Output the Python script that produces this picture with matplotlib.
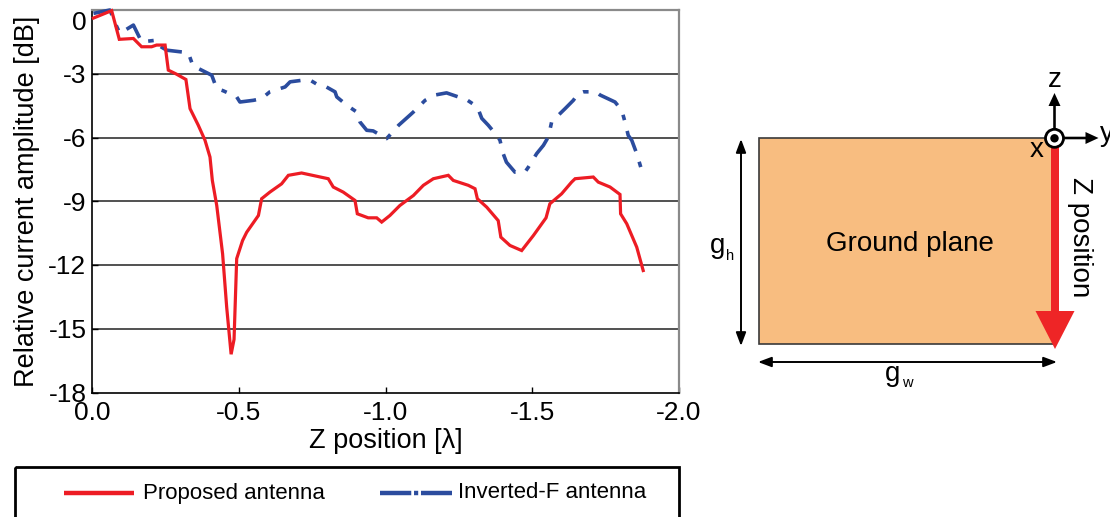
import matplotlib
matplotlib.use("Agg")
import matplotlib.pyplot as plt
import matplotlib.transforms as mtransforms
from matplotlib.patches import Rectangle, FancyArrow, Circle
from matplotlib.lines import Line2D

plt.rcParams['font.family'] = ['Liberation Sans', 'DejaVu Sans']
plt.rcParams['axes.unicode_minus'] = False
plt.rcParams['lines.scale_dashes'] = False

# ---------------- data ----------------
proposed_z = [-0.005, -0.067, -0.093, -0.141, -0.169, -0.203, -0.220, -0.249, -0.260, -0.288,
              -0.320, -0.334, -0.362, -0.385, -0.402, -0.410, -0.425, -0.445, -0.459, -0.474,
              -0.484, -0.493, -0.513, -0.527, -0.567, -0.578, -0.606, -0.646, -0.669, -0.714,
              -0.805, -0.822, -0.856, -0.896, -0.904, -0.941, -0.970, -0.987, -1.015, -1.049,
              -1.095, -1.129, -1.163, -1.214, -1.231, -1.282, -1.305, -1.313, -1.345, -1.384,
              -1.393, -1.424, -1.464, -1.504, -1.547, -1.560, -1.600, -1.634, -1.646, -1.708,
              -1.725, -1.765, -1.799, -1.801, -1.822, -1.856, -1.878]
proposed_db = [-0.38, -0.03, -1.38, -1.34, -1.73, -1.73, -1.65, -1.65, -2.83, -3.02,
               -3.27, -4.64, -5.42, -6.13, -6.92, -8.02, -9.20, -11.48, -14.00, -16.20,
               -15.50, -11.70, -10.85, -10.46, -9.67, -8.88, -8.57, -8.18, -7.78, -7.67,
               -7.94, -8.33, -8.57, -8.96, -9.59, -9.78, -9.78, -9.98, -9.67, -9.20,
               -8.73, -8.25, -7.94, -7.78, -8.02, -8.25, -8.41, -8.88, -9.28, -9.91,
               -10.69, -11.08, -11.32, -10.61, -9.78, -9.12, -8.65, -8.10, -7.94, -7.86,
               -8.10, -8.33, -8.68, -9.59, -10.06, -11.16, -12.26]

invf_z = [-0.005, -0.061, -0.082, -0.095, -0.141, -0.169, -0.220, -0.225, -0.254, -0.328,
          -0.345, -0.362, -0.408, -0.425, -0.447, -0.493, -0.504, -0.550, -0.578, -0.606,
          -0.618, -0.658, -0.675, -0.720, -0.743, -0.766, -0.788, -0.828, -0.834, -0.868,
          -0.902, -0.913, -0.936, -0.958, -0.993, -1.004, -1.045, -1.083, -1.095, -1.135,
          -1.169, -1.208, -1.248, -1.271, -1.313, -1.328, -1.350, -1.379, -1.390, -1.401,
          -1.412, -1.441, -1.475, -1.487, -1.515, -1.538, -1.555, -1.566, -1.578, -1.612,
          -1.640, -1.657, -1.674, -1.717, -1.731, -1.782, -1.805, -1.816, -1.827, -1.839,
          -1.856, -1.878]
invf_db = [-0.16, 0.00, -0.71, -1.10, -0.71, -1.50, -1.42, -1.65, -1.89, -2.01,
           -2.67, -2.75, -3.07, -3.70, -3.80, -4.09, -4.33, -4.25, -4.17, -3.85,
           -3.80, -3.62, -3.38, -3.30, -3.30, -3.49, -3.54, -3.85, -4.09, -4.48,
           -4.80, -5.27, -5.66, -5.69, -5.97, -6.05, -5.42, -4.95, -4.80, -4.25,
           -4.00, -3.90, -4.09, -4.17, -4.56, -5.10, -5.42, -5.90, -6.13, -6.76,
           -7.16, -7.63, -7.63, -7.39, -6.76, -6.37, -5.97, -5.27, -5.10, -4.64,
           -4.25, -3.93, -3.85, -3.85, -4.00, -4.33, -4.72, -5.27, -5.90, -6.13,
           -6.76, -7.78]

x_ticks = [0.0, -0.5, -1.0, -1.5, -2.0]
x_ticklabels = ['0.0', '-0.5', '-1.0', '-1.5', '-2.0']
y_ticks = [0, -3, -6, -9, -12, -15, -18]
y_ticklabels = ['0', '-3', '-6', '-9', '-12', '-15', '-18']
series_names = ['Proposed antenna', 'Inverted-F antenna']

RED = '#ED1C24'
BLUE = '#2B4C9E'
W, H = 1110, 517

fig = plt.figure(figsize=(W / 100, H / 100), dpi=100)

# ---------------- chart ----------------
L, R, T, B = 92, 679, 10, 392.5
ax = fig.add_axes([L / W, 1 - B / H, (R - L) / W, (B - T) / H])
ax.set_xlim(0, -2)
ax.set_ylim(-18, 0)

for yv in y_ticks[1:-1]:
    ax.axhline(yv, color='#222222', lw=1.1, zorder=1)

ax.plot(invf_z, invf_db, color=BLUE, lw=2.6, dashes=(16, 8, 4, 8),
        dash_capstyle='butt', zorder=3, clip_on=False)
ax.plot(proposed_z, proposed_db, color=RED, lw=2.3, zorder=4, clip_on=False,
        solid_joinstyle='miter')

ax.set_xticks(x_ticks)
ax.set_xticklabels(x_ticklabels)
ax.set_yticks(y_ticks)
ax.set_yticklabels(y_ticklabels)
ax.tick_params(axis='both', direction='in', length=4, width=1, labelsize=19,
               colors='black')
ax.tick_params(axis='y', pad=4)
ax.tick_params(axis='x', pad=6)
for s in ['left', 'bottom']:
    ax.spines[s].set_color('black')
    ax.spines[s].set_linewidth(1.2)
for s in ['top', 'right']:
    ax.spines[s].set_color('#8a8a8a')
    ax.spines[s].set_linewidth(1.6)

# the "0" label sits slightly below its gridline in the reference
fig.canvas.draw()
zero_lbl = ax.get_yticklabels()[0]
zero_lbl.set_transform(zero_lbl.get_transform() +
                       mtransforms.ScaledTranslation(0, -10 / 100, fig.dpi_scale_trans))

ax.set_xlabel('Z position [λ]', fontsize=19.5)
ax.xaxis.set_label_coords(0.5, -(428 - B) / (B - T))
ax.set_ylabel('Relative current amplitude [dB]', fontsize=19.5)
ax.yaxis.set_label_coords(-(L - 40) / (R - L), 0.5)

# ---------------- overlay (pixel coordinates) ----------------
ov = fig.add_axes([0, 0, 1, 1])
ov.set_xlim(0, W)
ov.set_ylim(H, 0)
ov.set_axis_off()

# legend box
ov.add_patch(Rectangle((15, 467), 664, 70, fill=False, ec='black', lw=2))
ov.add_line(Line2D([64, 134], [493, 493], color=RED, lw=3.2, solid_capstyle='butt'))
ov.text(143, 493, series_names[0], fontsize=16, va='center', ha='left')
ov.add_line(Line2D([380, 452], [493, 493], color=BLUE, lw=3.2, dashes=(22.5, 2, 3, 2),
                   dash_capstyle='butt'))
ov.text(458, 493, series_names[1], fontsize=16, va='center', ha='left')

# ground plane diagram
ov.add_patch(Rectangle((759, 138), 294, 206, fc='#F8BD80', ec='#3a3a3a', lw=1.2))
ov.text(910, 251, 'Ground plane', fontsize=20, ha='center', va='baseline')

arrow_kw = dict(arrowstyle='<|-|>,head_length=0.8,head_width=0.3', color='black',
                lw=1.4, shrinkA=0, shrinkB=0, mutation_scale=10)
ov.annotate('', xy=(741, 139), xytext=(741, 346), arrowprops=arrow_kw)
ov.annotate('', xy=(758, 362), xytext=(1057, 362), arrowprops=arrow_kw)

ov.text(718, 253, 'g', fontsize=20, ha='center', va='baseline')
ov.text(730, 260, 'h', fontsize=10.5, ha='center', va='baseline')
ov.text(893, 381, 'g', fontsize=20, ha='center', va='baseline')
ov.text(907, 387, 'w', fontsize=10.5, ha='center', va='baseline')

# red Z-position arrow
ov.add_patch(FancyArrow(1055, 146, 0, 203, width=8, head_width=39, head_length=38,
                        length_includes_head=True, color='#EE2526', lw=0))
ov.text(1080, 237, 'Z position', fontsize=20, rotation=270, ha='center', va='center')

# coordinate system
ov.add_patch(FancyArrow(1054.5, 138, 0, -45, width=2.6, head_width=12, head_length=13,
                        length_includes_head=True, color='black', lw=0))
ov.add_patch(FancyArrow(1054.5, 138, 44, 0, width=2.6, head_width=12, head_length=13,
                        length_includes_head=True, color='black', lw=0))
ov.add_patch(Circle((1054.5, 138.3), 9, fc='white', ec='black', lw=2, zorder=5))
ov.add_patch(Circle((1054.5, 138.3), 4.2, fc='black', ec='none', zorder=6))
ov.text(1055, 87, 'z', fontsize=20, ha='center', va='baseline')
ov.text(1100, 141, 'y', fontsize=20, ha='left', va='baseline')
ov.text(1037, 157, 'x', fontsize=20, ha='center', va='baseline')

fig.savefig('out.png', dpi=100)
